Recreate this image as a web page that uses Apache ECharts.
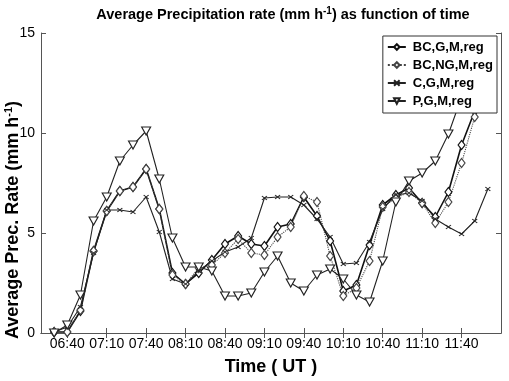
<!DOCTYPE html>
<html><head><meta charset="utf-8">
<script src="https://cdn.jsdelivr.net/npm/echarts@6/dist/echarts.min.js"></script>
<style>html,body{margin:0;padding:0;background:#fff}#c{width:509px;height:381px}</style>
</head><body><div id="c"></div>
<script>
// 10-minute time categories (UT)
const times = ['06:20','06:30','06:40','06:50','07:00','07:10','07:20','07:30','07:40','07:50',
  '08:00','08:10','08:20','08:30','08:40','08:50','09:00','09:10','09:20','09:30',
  '09:40','09:50','10:00','10:10','10:20','10:30','10:40','10:50','11:00','11:10',
  '11:20','11:30','11:40','11:50','12:00','12:10'];
const tickLabels = ['06:40','07:10','07:40','08:10','08:40','09:10','09:40','10:10','10:40','11:10','11:40'];
const seriesNames = ['BC,G,M,reg','BC,NG,M,reg','C,G,M,reg','P,G,M,reg'];
const bcG  = [null,0.05,0.05,1.1,4.1,6.1,7.1,7.3,8.2,6.2,3.0,2.45,3.0,3.65,4.45,4.85,4.45,4.35,5.3,5.45,6.8,5.85,4.6,2.1,2.4,4.4,6.4,6.9,7.25,6.5,5.8,7.05,9.4,11.1,13.0,null];
const bcNG = [null,0.05,0.05,1.15,4.1,6.1,7.1,7.3,8.2,6.2,2.9,2.45,3.25,3.4,4.0,4.7,4.0,3.9,4.8,5.3,6.85,6.55,3.85,1.85,2.25,3.6,6.3,6.75,7.05,6.5,5.5,6.55,8.5,10.8,12.8,null];
const cG   = [null,0.05,0.3,1.3,4.0,6.15,6.15,6.05,6.8,5.05,2.7,2.45,3.1,3.6,4.05,4.3,4.75,6.75,6.8,6.8,6.4,5.7,4.8,3.45,3.5,4.55,6.2,6.9,7.0,6.6,5.7,5.3,4.95,5.6,7.2,null];
const pG   = [null,0.0,0.4,1.9,5.6,6.8,8.6,9.4,10.1,7.7,4.75,3.3,3.3,3.1,1.85,1.85,2.0,3.05,3.85,2.5,2.1,2.9,3.2,2.7,1.9,1.55,3.6,6.55,7.6,8.0,8.6,9.95,11.8,13.4,14.6,null];
const yMin = 0, yMax = 15, yStep = 5;

const FF = "'Liberation Sans', Arial, sans-serif";
const showTick = (idx, val) => tickLabels.indexOf(times[idx]) >= 0;
const axisCol = '#555';

const chart = echarts.init(document.getElementById('c'), null, {renderer:'canvas'});
const baseLine = (name, data, symbol, size, lineStyle) => ({
  name, type:'line', data, xAxisIndex:0, yAxisIndex:0,
  symbol, symbolSize:size, showAllSymbol:true, connectNulls:false,
  lineStyle, itemStyle:{color:'#fff', borderColor:lineStyle.color, borderWidth:1.1},
  emphasis:{disabled:true}, animation:false, clip:true
});
chart.setOption({
  animation:false,
  backgroundColor:'#fff',
  grid:{left:41, right:8, top:33, bottom:38, containLabel:false},
  legend:{
    data:seriesNames, orient:'vertical', right:12, top:36,
    backgroundColor:'#fff', borderColor:'#333', borderWidth:1,
    padding:[4,4,5,4], itemGap:4, itemWidth:18, itemHeight:7,
    textStyle:{fontFamily:FF, fontSize:13, fontWeight:'bold', color:'#000', lineHeight:14, padding:[0,0,0,2]},
    selectedMode:false, z:10
  },
  xAxis:[{
    type:'category', data:times, boundaryGap:false, position:'bottom',
    axisLine:{lineStyle:{color:axisCol, width:1}},
    axisTick:{inside:true, length:5, interval:showTick, lineStyle:{color:axisCol}},
    axisLabel:{interval:showTick, fontFamily:FF, fontSize:14, color:'#000', margin:4},
    name:'Time ( UT )', nameLocation:'middle', nameGap:25,
    nameTextStyle:{fontFamily:FF, fontSize:18, fontWeight:'bold', color:'#000'},
    splitLine:{show:false}
  },{
    type:'category', data:times, boundaryGap:false, position:'top',
    axisLine:{lineStyle:{color:axisCol, width:1}},
    axisTick:{inside:true, length:5, interval:showTick, lineStyle:{color:axisCol}},
    axisLabel:{show:false}, splitLine:{show:false}
  }],
  yAxis:[{
    type:'value', min:yMin, max:yMax, interval:yStep, position:'left',
    axisLine:{show:true, lineStyle:{color:axisCol, width:1}},
    axisTick:{show:true, inside:true, length:5, lineStyle:{color:axisCol}},
    axisLabel:{fontFamily:FF, fontSize:14, color:'#000', margin:6},
    splitLine:{show:false}
  },{
    type:'value', min:yMin, max:yMax, interval:yStep, position:'right',
    axisLine:{show:true, lineStyle:{color:axisCol, width:1}},
    axisTick:{show:true, inside:true, length:5, lineStyle:{color:axisCol}},
    axisLabel:{show:false}, splitLine:{show:false}
  }],
  graphic:[{
    type:'text', x:283, y:15, z:20,
    style:{
      text:'{a|Average Precipitation rate (mm h}{s|-1}{a|) as function of time}',
      align:'center', verticalAlign:'middle',
      rich:{
        a:{fontFamily:FF, fontSize:14.5, fontWeight:'bold', fill:'#000'},
        s:{fontFamily:FF, fontSize:10, fontWeight:'bold', fill:'#000', padding:[0,0,7,0]}
      }
    }
  },{
    type:'text', x:13, y:220, rotation:Math.PI/2, z:20,
    style:{
      text:'{a|Average Prec. Rate (mm h}{s|-1}{a|)}',
      align:'center', verticalAlign:'middle',
      rich:{
        a:{fontFamily:FF, fontSize:18, fontWeight:'bold', fill:'#000'},
        s:{fontFamily:FF, fontSize:11, fontWeight:'bold', fill:'#000', padding:[0,0,9,0]}
      }
    }
  }],
  series:[
    baseLine(seriesNames[0], bcG, 'diamond', [7,9], {color:'#111', width:1.6, type:'solid'}),
    baseLine(seriesNames[1], bcNG, 'diamond', [7,9], {color:'#444', width:1.1, type:'dotted'}),
    baseLine(seriesNames[2], cG, 'path://M0,0L10,10M10,0L0,10', [5,4], {color:'#222', width:1.1, type:'solid'}),
    baseLine(seriesNames[3], pG, 'path://M0,0L10,0L5,9Z', [9,8], {color:'#222', width:1.1, type:'solid'})
  ]
});
</script></body></html>
